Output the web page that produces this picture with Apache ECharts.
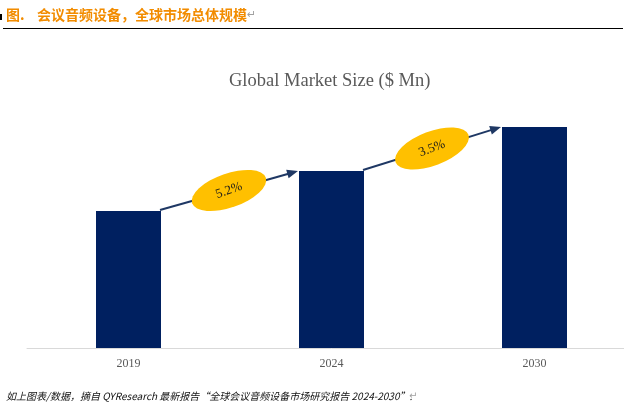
<!DOCTYPE html>
<html>
<head>
<meta charset="utf-8">
<script src="https://cdn.jsdelivr.net/npm/echarts@6/dist/echarts.min.js"></script>
<style>
html,body{margin:0;padding:0;background:#fff;overflow:hidden;}
#c{width:640px;height:410px;}
</style>
</head>
<body>
<div id="c"></div>
<script>
// ---- data ----
var years = ['2019', '2024', '2030'];
var marketSize = [137, 177, 221];
var growthLabels = ['5.2%', '3.5%'];
var chartTitle = 'Global Market Size ($ Mn)';
var headerNum = '图.';
var headerText = '会议音频设备，全球市场总体规模';
var footerText = '如上图表/数据，摘自 QYResearch 最新报告“全球会议音频设备市场研究报告 2024-2030”.';

var BAR_W = 65;
var chart = echarts.init(document.getElementById('c'), null, {renderer: 'canvas'});

function renderGrowth(params, api) {
  var i = params.dataIndex;
  var a = api.coord([i, marketSize[i]]);
  var b = api.coord([i + 1, marketSize[i + 1]]);
  var p1 = [a[0] + BAR_W / 2 - 1, a[1] - 1];
  var p2 = [b[0] - BAR_W / 2 - 1, b[1]];
  var dx = p2[0] - p1[0], dy = p1[1] - p2[1];
  var L = Math.sqrt(dx * dx + dy * dy);
  var ang = Math.atan2(dy, dx);
  var mid = [(p1[0] + p2[0]) / 2, (p1[1] + p2[1]) / 2];
  return {
    type: 'group',
    children: [
      {
        type: 'group', x: p1[0], y: p1[1], rotation: ang,
        children: [
          {type: 'line', shape: {x1: 0, y1: 0, x2: L - 8, y2: 0},
           style: {stroke: '#1F3864', lineWidth: 2}},
          {type: 'polygon', shape: {points: [[L, 0], [L - 11, -4.5], [L - 11, 4.5]]},
           style: {fill: '#1F3864'}}
        ]
      },
      {
        type: 'group', x: mid[0], y: mid[1], rotation: ang + 0.06,
        children: [
          {type: 'circle', shape: {cx: 0, cy: 0, r: 17}, scaleX: 39 / 17,
           style: {fill: '#FFC000'}},
          {type: 'text', x: 0, y: 0,
           style: {text: growthLabels[i], align: 'center', verticalAlign: 'middle',
                   fill: '#1a1a1a', font: '13px "Liberation Serif", serif'}}
        ]
      }
    ]
  };
}

chart.setOption({
  animation: false,
  backgroundColor: '#ffffff',
  title: {
    text: chartTitle,
    left: 224, top: 67,
    textStyle: {color: '#595959', fontSize: 18.5, fontWeight: 'normal',
                fontFamily: '"Liberation Serif", serif'}
  },
  grid: {left: 27, top: 110, width: 609, height: 238, containLabel: false},
  xAxis: {
    type: 'category', data: years,
    axisLine: {lineStyle: {color: '#d9d9d9', width: 1}},
    axisTick: {show: false},
    axisLabel: {color: '#595959', fontSize: 12, margin: 10,
                fontFamily: '"Liberation Serif", serif'}
  },
  yAxis: {type: 'value', min: 0, max: 238, show: false, splitLine: {show: false}},
  series: [
    {type: 'bar', data: marketSize, barWidth: BAR_W,
     itemStyle: {color: '#002060'}},
    {type: 'custom', z: 5, renderItem: renderGrowth, clip: false,
     data: growthLabels.map(function (g, i) { return [i, marketSize[i]]; })}
  ],
  graphic: [
    {type: 'rect', shape: {x: 0, y: 14, width: 2, height: 6}, style: {fill: '#000'}},
    {type: 'text', x: 6, y: 8,
     style: {text: headerNum, fill: '#F28C00', fontSize: 14, fontWeight: 'bold',
             fontFamily: '"Noto Sans CJK SC", sans-serif'}},
    {type: 'text', x: 37, y: 8,
     style: {text: headerText, fill: '#F28C00', fontSize: 14, fontWeight: 'bold',
             fontFamily: '"Noto Sans CJK SC", sans-serif'}},
    {type: 'text', x: 247, y: 10,
     style: {text: '↵', fill: '#a0a0a0', fontSize: 11,
             fontFamily: '"DejaVu Sans", sans-serif'}},
    {type: 'rect', shape: {x: 3, y: 28, width: 620, height: 1}, style: {fill: '#000'}},
    {type: 'text', x: 6, y: 391,
     style: {text: footerText, fill: '#111', fontSize: 10, fontStyle: 'italic',
             fontFamily: '"Noto Sans CJK SC", sans-serif'}},
    {type: 'text', x: 409, y: 391,
     style: {text: '↵', fill: '#a0a0a0', fontSize: 10,
             fontFamily: '"DejaVu Sans", sans-serif'}}
  ]
});
</script>
</body>
</html>
